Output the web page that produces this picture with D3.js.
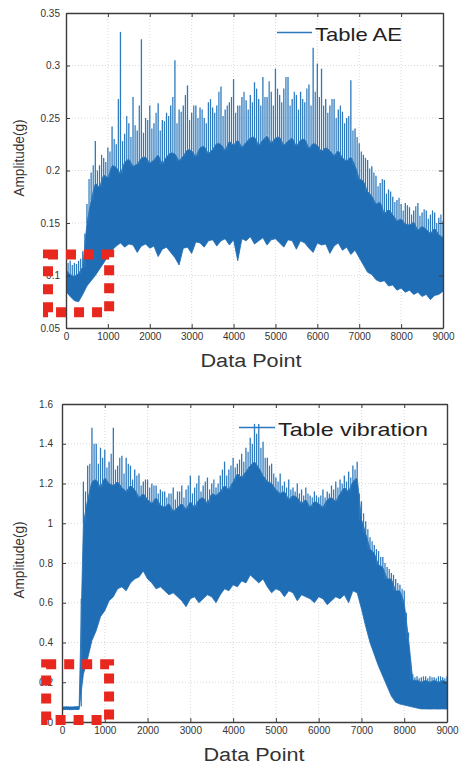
<!DOCTYPE html>
<html>
<head>
<meta charset="utf-8">
<script src="https://cdn.jsdelivr.net/npm/d3@7"></script>
<style>
  body { margin: 0; background: #fff; }
  text { font-family: 'Liberation Sans', Arial, sans-serif; }
</style>
</head>
<body>
<svg id="chart" width="459" height="764"></svg>
<script>
// ---- data ----
const xTicks = [0, 1000, 2000, 3000, 4000, 5000, 6000, 7000, 8000, 9000];
const aeYTicks = [0.05, 0.1, 0.15, 0.2, 0.25, 0.3, 0.35];
const aeYLabels = ["0.05", "0.1", "0.15", "0.2", "0.25", "0.3", "0.35"];
const vibYTicks = [0, 0.2, 0.4, 0.6, 0.8, 1, 1.2, 1.4, 1.6];
const vibYLabels = ["0", "0.2", "0.4", "0.6", "0.8", "1", "1.2", "1.4", "1.6"];

// one sample every 100 data points (0 .. 9000):
// Lo = bottom of band, Core = top of the dense band, Hi = spike tops
// Mid = spike tops half way between samples (50, 150, ... 8950)
const sampleStep = 100;

const aeLo = [0.085, 0.080, 0.076, 0.075, 0.082, 0.090, 0.095, 0.100, 0.106, 0.112,
  0.118, 0.124, 0.128, 0.131, 0.127, 0.130, 0.129, 0.122, 0.128, 0.130,
  0.126, 0.128, 0.118, 0.125, 0.127, 0.122, 0.117, 0.110, 0.126, 0.127,
  0.121, 0.132, 0.131, 0.127, 0.133, 0.134, 0.128, 0.133, 0.135, 0.129,
  0.134, 0.114, 0.135, 0.133, 0.137, 0.130, 0.133, 0.136, 0.129, 0.134,
  0.135, 0.131, 0.127, 0.134, 0.133, 0.125, 0.133, 0.131, 0.126, 0.122,
  0.131, 0.129, 0.130, 0.121, 0.128, 0.131, 0.124, 0.127, 0.120, 0.124,
  0.117, 0.110, 0.103, 0.101, 0.096, 0.094, 0.095, 0.090, 0.091, 0.086,
  0.088, 0.084, 0.086, 0.082, 0.084, 0.080, 0.082, 0.077, 0.081, 0.082, 0.085];
const aeCore = [0.105, 0.101, 0.099, 0.102, 0.108, 0.150, 0.172, 0.188, 0.184, 0.196,
  0.193, 0.205, 0.203, 0.197, 0.208, 0.211, 0.204, 0.206, 0.212, 0.213,
  0.207, 0.210, 0.215, 0.206, 0.213, 0.217, 0.216, 0.209, 0.214, 0.220,
  0.219, 0.213, 0.222, 0.223, 0.216, 0.220, 0.226, 0.225, 0.219, 0.228,
  0.224, 0.229, 0.222, 0.227, 0.231, 0.232, 0.224, 0.229, 0.233, 0.226,
  0.231, 0.232, 0.224, 0.228, 0.231, 0.223, 0.229, 0.230, 0.221, 0.226,
  0.224, 0.218, 0.222, 0.219, 0.214, 0.219, 0.212, 0.209, 0.213, 0.205,
  0.192, 0.190, 0.180, 0.176, 0.168, 0.170, 0.159, 0.163, 0.158, 0.152,
  0.154, 0.149, 0.148, 0.151, 0.143, 0.147, 0.144, 0.140, 0.145, 0.139, 0.136];
const aeHi = [0.118, 0.114, 0.112, 0.114, 0.123, 0.168, 0.198, 0.228, 0.205, 0.212,
  0.222, 0.242, 0.225, 0.332, 0.235, 0.245, 0.270, 0.238, 0.325, 0.250,
  0.262, 0.245, 0.264, 0.248, 0.255, 0.262, 0.305, 0.258, 0.262, 0.281,
  0.255, 0.262, 0.260, 0.250, 0.265, 0.260, 0.262, 0.280, 0.258, 0.265,
  0.287, 0.262, 0.270, 0.267, 0.272, 0.284, 0.268, 0.289, 0.270, 0.275,
  0.297, 0.272, 0.278, 0.289, 0.268, 0.272, 0.275, 0.265, 0.282, 0.317,
  0.302, 0.297, 0.268, 0.262, 0.268, 0.258, 0.256, 0.250, 0.286, 0.240,
  0.226, 0.215, 0.210, 0.204, 0.195, 0.188, 0.191, 0.182, 0.175, 0.172,
  0.168, 0.169, 0.165, 0.162, 0.169, 0.160, 0.162, 0.158, 0.160, 0.155, 0.152];
const aeMid = [0.112, 0.110, 0.111, 0.116, 0.140, 0.192, 0.205, 0.200, 0.215, 0.208,
  0.218, 0.230, 0.268, 0.228, 0.252, 0.232, 0.243, 0.262, 0.236, 0.248,
  0.240, 0.255, 0.238, 0.247, 0.252, 0.270, 0.245, 0.256, 0.272, 0.248,
  0.262, 0.250, 0.258, 0.245, 0.268, 0.255, 0.275, 0.252, 0.262, 0.270,
  0.255, 0.262, 0.275, 0.258, 0.265, 0.278, 0.262, 0.270, 0.285, 0.262,
  0.278, 0.265, 0.289, 0.262, 0.275, 0.258, 0.268, 0.278, 0.262, 0.275,
  0.270, 0.262, 0.255, 0.268, 0.250, 0.262, 0.245, 0.252, 0.238, 0.232,
  0.218, 0.212, 0.202, 0.198, 0.185, 0.192, 0.178, 0.180, 0.170, 0.174,
  0.162, 0.167, 0.158, 0.166, 0.157, 0.163, 0.154, 0.162, 0.150, 0.158];

const vibLo = [0.062, 0.063, 0.062, 0.063, 0.063, 0.24, 0.32, 0.41, 0.46, 0.53,
  0.56, 0.61, 0.63, 0.67, 0.68, 0.66, 0.70, 0.72, 0.73, 0.76,
  0.72, 0.70, 0.67, 0.68, 0.66, 0.64, 0.65, 0.63, 0.61, 0.58,
  0.62, 0.63, 0.60, 0.62, 0.64, 0.63, 0.60, 0.64, 0.67, 0.66,
  0.69, 0.68, 0.71, 0.70, 0.74, 0.72, 0.70, 0.72, 0.68, 0.65,
  0.67, 0.66, 0.63, 0.66, 0.65, 0.61, 0.64, 0.63, 0.62, 0.60,
  0.63, 0.62, 0.59, 0.61, 0.63, 0.62, 0.64, 0.60, 0.66, 0.65,
  0.57, 0.48, 0.40, 0.34, 0.28, 0.23, 0.18, 0.13, 0.10, 0.09,
  0.085, 0.08, 0.075, 0.07, 0.066, 0.066, 0.065, 0.066, 0.065, 0.066, 0.065];
const vibCore = [0.075, 0.076, 0.075, 0.076, 0.078, 1.00, 1.12, 1.21, 1.22, 1.18,
  1.23, 1.20, 1.19, 1.21, 1.18, 1.16, 1.19, 1.17, 1.13, 1.15,
  1.12, 1.10, 1.13, 1.09, 1.08, 1.10, 1.06, 1.08, 1.10, 1.07,
  1.11, 1.08, 1.12, 1.13, 1.10, 1.15, 1.14, 1.16, 1.19, 1.17,
  1.21, 1.25, 1.23, 1.26, 1.29, 1.31, 1.28, 1.24, 1.21, 1.20,
  1.17, 1.15, 1.16, 1.12, 1.14, 1.13, 1.10, 1.12, 1.08, 1.11,
  1.10, 1.08, 1.12, 1.13, 1.11, 1.15, 1.18, 1.16, 1.21, 1.23,
  1.02, 0.95, 0.87, 0.85, 0.79, 0.78, 0.72, 0.72, 0.66, 0.66,
  0.60, 0.42, 0.21, 0.21, 0.20, 0.21, 0.20, 0.21, 0.20, 0.21, 0.20];
const vibHi = [0.078, 0.079, 0.078, 0.079, 0.080, 1.21, 1.29, 1.48, 1.40, 1.38,
  1.37, 1.31, 1.48, 1.29, 1.34, 1.33, 1.29, 1.27, 1.25, 1.21,
  1.22, 1.20, 1.19, 1.17, 1.16, 1.15, 1.18, 1.16, 1.19, 1.17,
  1.24, 1.18, 1.24, 1.19, 1.23, 1.20, 1.18, 1.24, 1.31, 1.27,
  1.33, 1.30, 1.35, 1.38, 1.43, 1.50, 1.50, 1.41, 1.33, 1.30,
  1.23, 1.25, 1.21, 1.22, 1.18, 1.20, 1.17, 1.18, 1.14, 1.16,
  1.13, 1.17, 1.16, 1.19, 1.21, 1.22, 1.24, 1.26, 1.29, 1.31,
  1.11, 1.01, 0.93, 0.89, 0.86, 0.83, 0.78, 0.75, 0.72, 0.69,
  0.66, 0.45, 0.24, 0.23, 0.225, 0.23, 0.23, 0.225, 0.23, 0.225, 0.23];
const vibMid = [0.077, 0.078, 0.077, 0.078, 0.62, 1.16, 1.30, 1.40, 1.30, 1.33,
  1.28, 1.35, 1.27, 1.33, 1.25, 1.30, 1.22, 1.24, 1.19, 1.22,
  1.18, 1.19, 1.15, 1.16, 1.13, 1.15, 1.12, 1.16, 1.13, 1.19,
  1.15, 1.20, 1.16, 1.21, 1.17, 1.22, 1.20, 1.27, 1.24, 1.29,
  1.28, 1.32, 1.31, 1.36, 1.40, 1.45, 1.38, 1.33, 1.29, 1.25,
  1.21, 1.19, 1.18, 1.17, 1.16, 1.15, 1.14, 1.15, 1.13, 1.14,
  1.14, 1.13, 1.15, 1.17, 1.18, 1.20, 1.21, 1.23, 1.27, 1.15,
  1.05, 0.97, 0.91, 0.87, 0.83, 0.80, 0.77, 0.74, 0.70, 0.67,
  0.55, 0.30, 0.225, 0.22, 0.23, 0.22, 0.225, 0.22, 0.23, 0.22];

// dotted red boxes: [x0, x1, y0, y1] in data units
const aeBox = [-430, 1030, 0.065, 0.12];
const vibBox = [-370, 1100, 0.01, 0.29];

const blue = "#1f6db4";
const spikeBlue = "#2c79bd";
const frame = "#3c3c3c";

const svg = d3.select("#chart");
svg.append("rect").attr("width", 459).attr("height", 764).attr("fill", "#fff");

function drawPanel(p) {
    const x = d3.scaleLinear().domain([0, 9000]).range([p.left, p.right]);
    const y = d3.scaleLinear().domain(p.yDomain).range([p.bottom, p.top]);
    const g = svg.append("g");

    // grid
    g.append("g").selectAll("line").data(xTicks.slice(1, -1)).join("line")
        .attr("x1", d => x(d)).attr("x2", d => x(d))
        .attr("y1", p.top).attr("y2", p.bottom)
        .attr("stroke", "#cfcfcf").attr("stroke-width", 0.8).attr("stroke-dasharray", "1,2");
    g.append("g").selectAll("line").data(p.yTicks.slice(1, -1)).join("line")
        .attr("x1", p.left).attr("x2", p.right)
        .attr("y1", d => y(d)).attr("y2", d => y(d))
        .attr("stroke", "#cfcfcf").attr("stroke-width", 0.8).attr("stroke-dasharray", "1,2");

    // signal
    const clipId = "clip" + p.id;
    svg.append("clipPath").attr("id", clipId).append("rect")
        .attr("x", p.left).attr("y", p.top)
        .attr("width", p.right - p.left).attr("height", p.bottom - p.top);
    const sig = g.append("g").attr("clip-path", `url(#${clipId})`);
    const xs = p.lo.map((_, i) => i * sampleStep);

    const area = d3.area()
        .x((d, i) => x(xs[i]))
        .y0((d, i) => y(p.lo[i]))
        .y1((d, i) => y(p.core[i]));
    sig.append("path").datum(p.lo).attr("d", area).attr("fill", blue)
        .attr("stroke", blue).attr("stroke-width", 0.8);

    // spikes at the samples
    sig.append("g").selectAll("line").data(xs).join("line")
        .attr("x1", d => x(d)).attr("x2", d => x(d))
        .attr("y1", (d, i) => y(p.core[i]))
        .attr("y2", (d, i) => y(p.hi[i]))
        .attr("stroke", spikeBlue).attr("stroke-width", 1.3);

    // spikes half way between samples
    sig.append("g").selectAll("line").data(p.mid).join("line")
        .attr("x1", (d, i) => x(xs[i] + sampleStep / 2))
        .attr("x2", (d, i) => x(xs[i] + sampleStep / 2))
        .attr("y1", (d, i) => y(Math.min(p.core[i], p.core[i + 1])))
        .attr("y2", d => y(d))
        .attr("stroke", spikeBlue).attr("stroke-width", 1.2);

    // axes with inward ticks
    const bottomAxis = d3.axisBottom(x).tickValues(xTicks).tickFormat(d3.format("d"))
        .tickSizeInner(-4).tickSizeOuter(0).tickPadding(5);
    const leftAxis = d3.axisLeft(y).tickValues(p.yTicks).tickFormat((d, i) => p.yLabels[i])
        .tickSizeInner(-4).tickSizeOuter(0).tickPadding(p.yPad);
    const topAxis = d3.axisTop(x).tickValues(xTicks).tickFormat("")
        .tickSizeInner(-4).tickSizeOuter(0);
    const rightAxis = d3.axisRight(y).tickValues(p.yTicks).tickFormat("")
        .tickSizeInner(-4).tickSizeOuter(0);

    const axes = [
        [bottomAxis, `translate(0,${p.bottom})`],
        [leftAxis, `translate(${p.left},0)`],
        [topAxis, `translate(0,${p.top})`],
        [rightAxis, `translate(${p.right},0)`]
    ];
    axes.forEach(([ax, tr]) => {
        const a = g.append("g").attr("transform", tr).call(ax);
        a.select(".domain").attr("stroke", frame).attr("stroke-width", 1.4);
        a.selectAll(".tick line").attr("stroke", frame).attr("stroke-width", 1);
        a.selectAll(".tick text").attr("fill", "#333").attr("font-size", 10)
            .style("font-family", "'Liberation Sans', Arial, sans-serif");
    });

    // axis titles
    g.append("text").attr("x", p.xLabelX).attr("y", p.bottom + 39)
        .attr("text-anchor", "middle").attr("font-size", 18).attr("fill", "#333")
        .attr("textLength", 101).attr("lengthAdjust", "spacingAndGlyphs")
        .text("Data Point");
    g.append("text")
        .attr("transform", `translate(24,${p.yLabelY}) rotate(-90)`)
        .attr("text-anchor", "middle").attr("font-size", 15).attr("fill", "#333")
        .attr("textLength", 77).attr("lengthAdjust", "spacingAndGlyphs")
        .text("Amplitude(g)");

    // legend
    g.append("line").attr("x1", p.legend.x1).attr("x2", p.legend.x2)
        .attr("y1", p.legend.y).attr("y2", p.legend.y)
        .attr("stroke", spikeBlue).attr("stroke-width", 1.6);
    g.append("text").attr("x", p.legend.x2 + 3).attr("y", p.legend.y + 8)
        .attr("font-size", 18.5).attr("fill", "#222")
        .attr("textLength", p.legend.len).attr("lengthAdjust", "spacingAndGlyphs")
        .text(p.legend.label);

    // red dotted box
    g.append("rect")
        .attr("x", x(p.box[0])).attr("y", y(p.box[3]))
        .attr("width", x(p.box[1]) - x(p.box[0]))
        .attr("height", y(p.box[2]) - y(p.box[3]))
        .attr("fill", "none").attr("stroke", "#e8281f")
        .attr("stroke-width", 10).attr("stroke-dasharray", "10,8");
}

drawPanel({
    id: "ae", left: 66, right: 443, top: 13, bottom: 328,
    yDomain: [0.05, 0.35], yTicks: aeYTicks, yLabels: aeYLabels, yPad: 6,
    lo: aeLo, core: aeCore, hi: aeHi, mid: aeMid, box: aeBox,
    xLabelX: 251, yLabelY: 158,
    legend: { x1: 277, x2: 312, y: 32.5, len: 87, label: "Table AE" }
});

drawPanel({
    id: "vib", left: 62, right: 447, top: 404, bottom: 722,
    yDomain: [0, 1.6], yTicks: vibYTicks, yLabels: vibYLabels, yPad: 9,
    lo: vibLo, core: vibCore, hi: vibHi, mid: vibMid, box: vibBox,
    xLabelX: 254, yLabelY: 560,
    legend: { x1: 239, x2: 275, y: 427.5, len: 150, label: "Table vibration" }
});
</script>
</body>
</html>
